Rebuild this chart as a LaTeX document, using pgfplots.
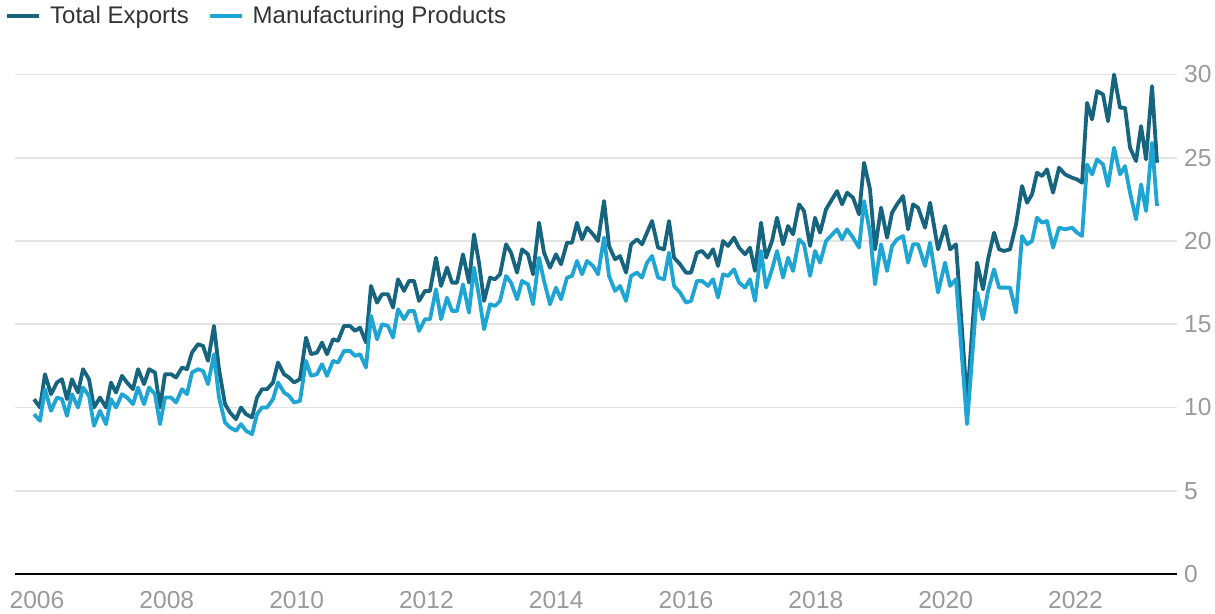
\documentclass[border=0pt]{standalone}
\usepackage{fontspec}
\setmainfont{Liberation Sans}
\usepackage{pgfplots}
\pgfplotsset{compat=1.18}
\usepackage{pgfplotstable}
\definecolor{darkteal}{HTML}{17647E}
\definecolor{lightblue}{HTML}{1FA5D3}
\definecolor{ticklab}{HTML}{9A9A9A}
\definecolor{gridc}{HTML}{E3E3E3}
\definecolor{legtext}{HTML}{333333}

\pgfplotstableread{
x te mp
2005.954 10.5 9.6
2006.046 10.0 9.2
2006.123 12.0 11.1
2006.216 10.8 9.8
2006.308 11.5 10.6
2006.385 11.7 10.5
2006.462 10.5 9.5
2006.539 11.7 10.8
2006.632 10.9 10.0
2006.709 12.3 11.2
2006.801 11.7 10.7
2006.878 10.0 8.9
2006.971 10.6 9.8
2007.063 10.0 9.0
2007.140 11.5 10.5
2007.217 10.9 10.0
2007.310 11.9 10.8
2007.387 11.5 10.6
2007.479 11.1 10.2
2007.556 12.3 11.2
2007.649 11.4 10.2
2007.726 12.3 11.2
2007.818 12.1 10.8
2007.895 10.0 9.0
2007.972 12.0 10.6
2008.065 12.0 10.6
2008.142 11.8 10.3
2008.234 12.4 11.1
2008.311 12.3 10.8
2008.388 13.3 12.1
2008.481 13.8 12.3
2008.558 13.7 12.2
2008.635 12.8 11.4
2008.727 14.9 13.2
2008.804 12.3 10.6
2008.897 10.2 9.1
2008.974 9.7 8.8
2009.066 9.3 8.6
2009.143 10.0 9.0
2009.220 9.6 8.6
2009.313 9.4 8.4
2009.390 10.6 9.6
2009.467 11.1 10.0
2009.544 11.1 10.0
2009.636 11.5 10.5
2009.713 12.7 11.5
2009.806 12.0 10.9
2009.883 11.8 10.7
2009.960 11.5 10.3
2010.052 11.7 10.4
2010.145 14.2 12.8
2010.222 13.2 11.9
2010.314 13.3 12.0
2010.391 13.9 12.6
2010.468 13.2 11.9
2010.561 14.1 12.8
2010.638 14.0 12.7
2010.730 14.9 13.4
2010.823 14.9 13.4
2010.900 14.6 13.1
2010.977 14.8 13.2
2011.069 13.9 12.4
2011.146 17.3 15.5
2011.239 16.3 14.1
2011.316 16.8 15.0
2011.408 16.8 14.9
2011.485 16.0 14.2
2011.562 17.7 15.9
2011.655 17.0 15.3
2011.732 17.6 15.8
2011.809 17.6 15.8
2011.886 16.4 14.6
2011.978 17.0 15.3
2012.055 17.0 15.3
2012.148 19.0 17.1
2012.225 17.3 15.3
2012.317 18.4 16.6
2012.394 17.5 15.8
2012.471 17.5 15.8
2012.564 19.2 17.4
2012.656 17.5 15.7
2012.733 20.4 18.4
2012.810 18.7 16.7
2012.888 16.4 14.7
2012.980 17.8 16.2
2013.057 17.7 16.1
2013.134 18.0 16.4
2013.227 19.8 17.9
2013.304 19.3 17.5
2013.396 18.1 16.5
2013.473 19.5 17.6
2013.565 19.2 17.4
2013.643 18.0 16.2
2013.735 21.1 19.0
2013.812 19.3 17.6
2013.904 18.4 16.2
2013.997 19.2 17.2
2014.074 18.6 16.5
2014.166 19.9 17.8
2014.243 19.9 17.9
2014.320 21.1 18.8
2014.398 20.1 18.0
2014.475 20.8 18.8
2014.567 20.4 18.5
2014.644 20.0 18.0
2014.737 22.4 20.2
2014.814 19.7 17.9
2014.906 18.9 17.0
2014.983 19.1 17.3
2015.076 18.1 16.4
2015.153 19.8 17.9
2015.245 20.1 18.1
2015.322 19.8 17.8
2015.399 20.5 18.7
2015.476 21.2 19.1
2015.569 19.6 17.8
2015.661 19.5 17.7
2015.738 21.2 19.3
2015.815 19.0 17.3
2015.908 18.6 16.9
2016.000 18.1 16.3
2016.077 18.1 16.4
2016.169 19.3 17.6
2016.247 19.4 17.6
2016.339 19.0 17.3
2016.416 19.5 17.7
2016.493 18.5 16.6
2016.570 20.0 18.0
2016.647 19.7 17.9
2016.740 20.2 18.3
2016.817 19.6 17.5
2016.909 19.2 17.2
2016.986 19.6 17.7
2017.063 18.2 16.4
2017.156 21.1 19.4
2017.233 19.0 17.2
2017.325 20.0 18.3
2017.402 21.4 19.4
2017.495 19.8 17.8
2017.572 20.9 19.0
2017.649 20.4 18.2
2017.741 22.2 20.1
2017.818 21.8 19.8
2017.911 19.7 17.9
2017.988 21.4 19.4
2018.065 20.5 18.7
2018.157 21.9 20.0
2018.327 23.0 20.7
2018.404 22.2 20.1
2018.481 22.9 20.7
2018.573 22.6 20.2
2018.666 21.6 19.6
2018.743 24.7 22.4
2018.835 23.1 20.5
2018.912 19.5 17.4
2019.005 22.0 19.8
2019.097 20.2 18.2
2019.174 21.7 19.7
2019.251 22.2 20.1
2019.344 22.7 20.3
2019.421 20.7 18.7
2019.498 22.2 19.8
2019.575 22.0 19.8
2019.683 20.8 18.5
2019.760 22.3 19.9
2019.883 19.5 16.9
2019.991 20.9 18.7
2020.068 19.5 17.3
2020.160 19.8 17.7
2020.330 10.3 9.0
2020.484 18.7 16.9
2020.576 17.1 15.3
2020.653 18.9 17.0
2020.746 20.5 18.3
2020.823 19.5 17.2
2020.900 19.4 17.2
2020.992 19.5 17.2
2021.085 21.0 15.7
2021.177 23.3 20.3
2021.254 22.3 19.8
2021.331 22.8 20.0
2021.408 24.1 21.4
2021.485 23.9 21.1
2021.562 24.3 21.2
2021.655 22.9 19.6
2021.747 24.4 20.8
2021.840 24.0 20.7
2021.948 23.8 20.8
2022.025 23.7 20.5
2022.102 23.5 20.3
2022.179 28.3 24.6
2022.256 27.3 24.0
2022.333 29.0 24.9
2022.425 28.8 24.6
2022.502 27.2 23.3
2022.595 30.0 25.6
2022.687 28.0 24.0
2022.764 28.0 24.5
2022.841 25.6 22.9
2022.934 24.8 21.3
2023.011 26.9 23.4
2023.088 24.9 21.8
2023.180 29.3 25.9
2023.257 24.7 22.1
}\datatable

\begin{document}
\begin{tikzpicture}
\path[use as bounding box] (0,0) rectangle (607.5pt,307pt);
\begin{axis}[
  at={(7.5pt,20pt)}, anchor=south west,
  width=581pt, height=249.75pt, scale only axis,
  xmin=2005.661, xmax=2023.565, ymin=0, ymax=30,
  xtick={2006,2008,...,2022}, ytick={0,5,...,30},
  major tick length=0pt,
  axis x line*=bottom, axis y line*=right,
  x axis line style={black, line width=1.2pt},
  y axis line style={draw=none},
  ymajorgrids, grid style={gridc, line width=0.8pt},
  tick label style={font=\fontsize{12.3}{14}\selectfont, text=ticklab},
  /pgf/number format/assume math mode=true,
  /pgf/number format/1000 sep={},
  xticklabel style={yshift=-5pt},
  clip=false,
  legend columns=2,
  legend style={at={(axis description cs:0,1)}, anchor=west, xshift=-5pt, yshift=29.25pt,
    draw=none, fill=none, inner sep=0pt, nodes={inner sep=0pt},
    font=\fontsize{12}{14}\selectfont, text=legtext,
    /tikz/every odd column/.append style={column sep=4.5pt},
    /tikz/every even column/.append style={column sep=9.5pt}},
  legend image code/.code={\draw[#1, line width=1.9pt] (0pt,0pt) -- (16pt,0pt);},
  legend cell align=left,
]
\addplot[darkteal, line width=1.9pt, line join=round] table[x=x,y=te]{\datatable};
\addlegendentry{Total Exports}
\addplot[lightblue, line width=1.9pt, line join=round] table[x=x,y=mp]{\datatable};
\addlegendentry{Manufacturing Products}
\end{axis}
\end{tikzpicture}
\end{document}
